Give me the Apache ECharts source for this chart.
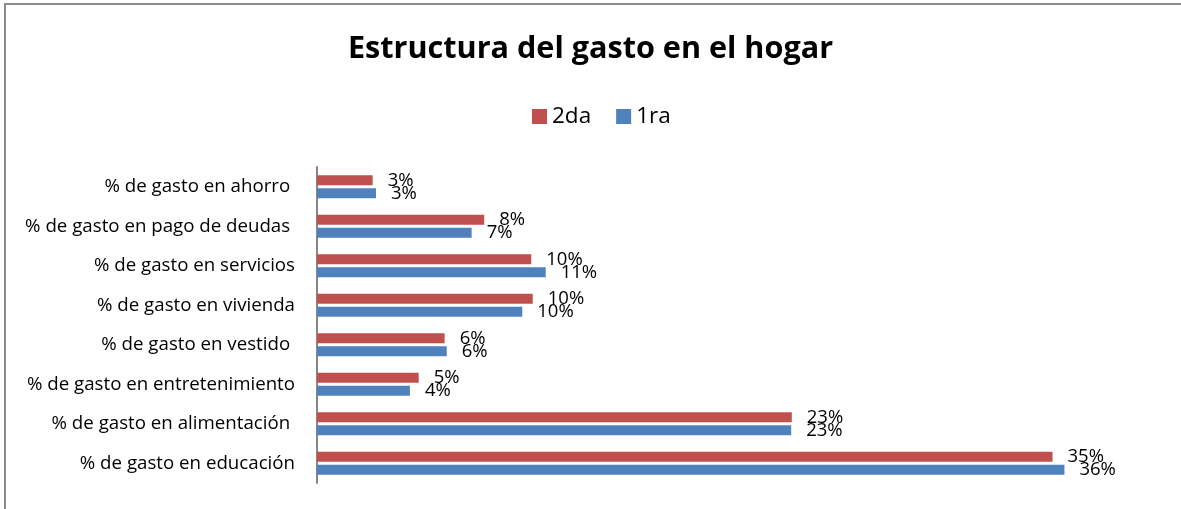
<!DOCTYPE html>
<html lang="es">
<head>
    <meta charset="utf-8">
    <title>Estructura del gasto en el hogar</title>
    <script src="https://cdn.jsdelivr.net/npm/echarts@6/dist/echarts.min.js"></script>
    <style>
        html, body { margin: 0; background: #fff; overflow: hidden; }
        #chart { position: absolute; left: 0; top: 0; width: 1181px; height: 509px; }
        #frame { position: absolute; left: 4px; top: 3px; width: 1400px; height: 700px;
                 border-top: 2px solid #8c8c8c; border-left: 2px solid #8c8c8c; pointer-events: none; }
    </style>
</head>
<body>
<div id="chart"></div>
<div id="frame"></div>
<script type="application/javascript">
    // categorias (de arriba hacia abajo)
    var categorias = [
        '% de gasto en ahorro ',
        '% de gasto en pago de deudas ',
        '% de gasto en servicios',
        '% de gasto en vivienda',
        '% de gasto en vestido ',
        '% de gasto en entretenimiento',
        '% de gasto en alimentación ',
        '% de gasto en educación'
    ];
    var nombres = ['2da', '1ra'];
    // valores (fracciones)
    var segunda = [0.0266, 0.0799, 0.1024, 0.1031, 0.0610, 0.0486, 0.2269, 0.3515];
    var primera = [0.0282, 0.0739, 0.1093, 0.0981, 0.0620, 0.0444, 0.2266, 0.3572];
    var colores = ['#C0504D', '#4F81BD'];

    var fuente = '"Open Sans", "Noto Sans", sans-serif';
    var chart = echarts.init(document.getElementById('chart'));

    function serie(nombre, datos, color) {
        return {
            name: nombre,
            type: 'bar',
            data: datos,
            barWidth: 10,
            barGap: '30%',
            itemStyle: {color: color},
            label: {
                show: true,
                position: 'right',
                distance: 15,
                color: '#000',
                fontSize: 18.5,
                fontFamily: fuente,
                formatter: function (p) {
                    return Math.round(p.value * 100) + '%';
                }
            }
        };
    }

    var option = {
        animation: false,
        color: colores,
        title: {
            text: 'Estructura del gasto en el hogar',
            left: 'center',
            top: 29,
            textStyle: {fontSize: 30.6, fontWeight: 'bold', color: '#000', fontFamily: fuente}
        },
        legend: {
            data: nombres,
            top: 100,
            left: 527,
            itemWidth: 15,
            itemHeight: 15,
            itemGap: 25,
            icon: 'rect',
            textStyle: {fontSize: 22.5, color: '#000', fontFamily: fuente}
        },
        grid: {left: 317, right: 27, top: 167, bottom: 26, containLabel: false},
        xAxis: {
            type: 'value',
            min: 0,
            max: 0.4,
            show: false
        },
        yAxis: {
            type: 'category',
            inverse: true,
            data: categorias,
            axisLine: {show: true, lineStyle: {color: '#868686', width: 2}},
            axisTick: {show: false},
            splitLine: {show: false},
            axisLabel: {margin: 22, color: '#000', fontSize: 18.7, fontFamily: fuente}
        },
        series: [
            serie(nombres[0], segunda, colores[0]),
            serie(nombres[1], primera, colores[1])
        ]
    };

    chart.setOption(option);
</script>
</body>
</html>
